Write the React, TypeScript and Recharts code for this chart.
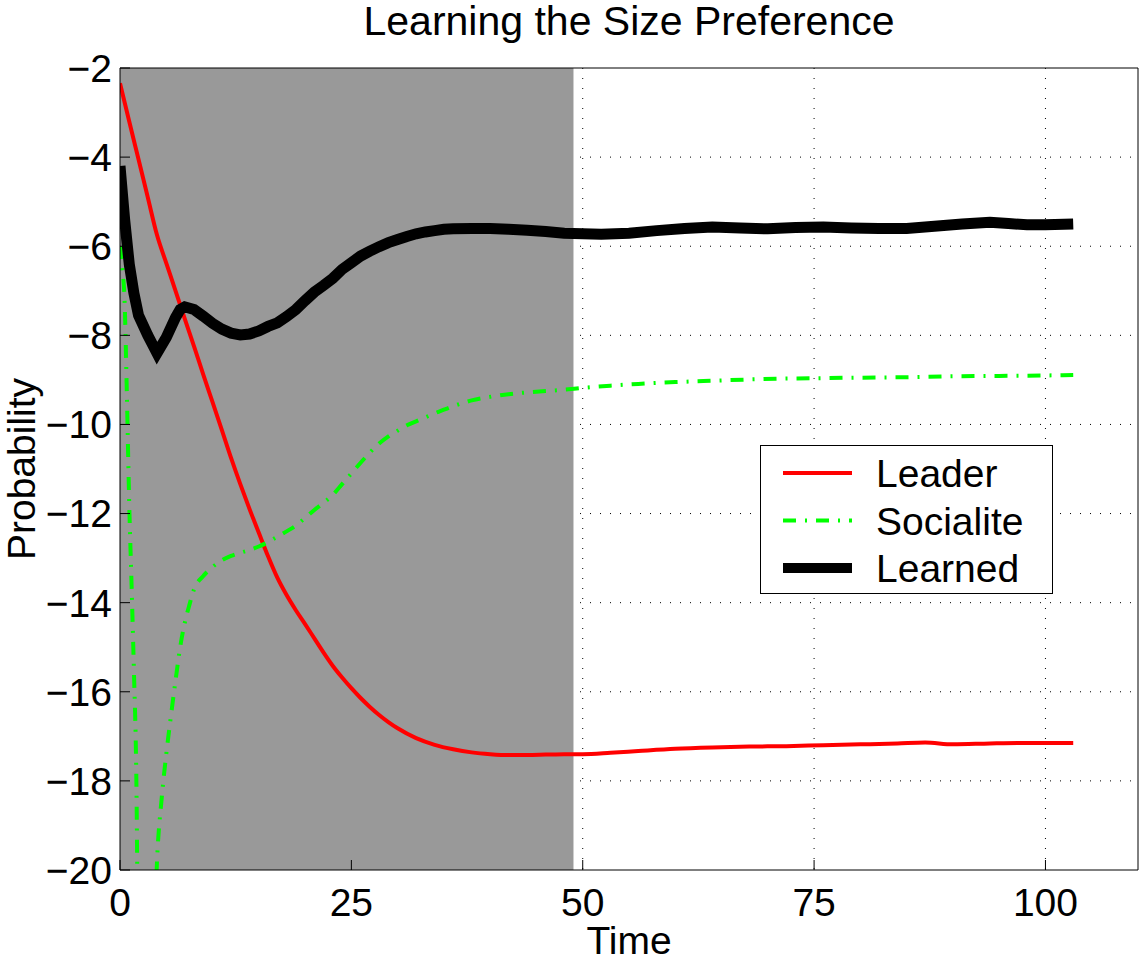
import React from 'react';
import {
  LineChart,
  Line,
  XAxis,
  YAxis,
  CartesianGrid,
  ReferenceArea,
  Legend,
  Label,
} from 'recharts';

// time axis and the three curves
const leaderTime = [
  0, 1, 2, 3, 4, 5, 6, 7, 8, 9, 10, 11, 12, 13, 14, 15, 16, 17, 18, 19, 20, 21, 22, 23, 24, 25, 26,
  27, 28, 29, 30, 32, 34, 36, 38, 40, 42, 44, 46, 48, 50, 53, 56, 60, 64, 68, 72, 76, 80, 84, 87,
  90, 94, 97, 100, 103,
];
const leaderValues = [
  -2.34, -3.2, -4.05, -4.9, -5.75, -6.38, -7.0, -7.63, -8.25, -8.88, -9.5, -10.12, -10.75, -11.34,
  -11.9, -12.43, -12.96, -13.44, -13.83, -14.17, -14.48, -14.8, -15.12, -15.42, -15.68, -15.92,
  -16.14, -16.34, -16.52, -16.68, -16.82, -17.04, -17.19, -17.29, -17.36, -17.4, -17.42, -17.42,
  -17.41, -17.4, -17.4, -17.37, -17.33, -17.28, -17.25, -17.23, -17.22, -17.2, -17.18, -17.16,
  -17.14, -17.18, -17.16, -17.15, -17.15, -17.15,
];

const socialiteTime = [
  0, 0.25, 0.5, 0.75, 1, 1.25, 1.5, 1.75, 2, 2.5, 3, 3.5, 4, 4.5, 5, 5.5, 6, 6.5, 7, 7.5, 8, 9, 10,
  11, 12, 13, 14, 15, 16, 17, 18, 19, 20, 21, 22, 23, 24, 25, 26, 27, 28, 29, 30, 31, 32, 33, 34,
  35, 36, 37, 38, 40, 42, 44, 46, 48, 50, 53, 56, 60, 64, 68, 72, 76, 80, 85, 90, 95, 100, 103,
];
const socialiteValues = [
  -6.0, -6.5, -7.25, -9.4, -11.8, -13.6, -15.5, -17.7, -22.5, -25, -26, -23, -19.8, -18.4, -17.4,
  -16.55, -15.75, -15.0, -14.45, -14.05, -13.7, -13.4, -13.2, -13.05, -12.95, -12.88, -12.82,
  -12.74, -12.64, -12.52, -12.4, -12.27, -12.1, -11.92, -11.76, -11.58, -11.34, -11.1, -10.86,
  -10.63, -10.43, -10.27, -10.14, -10.02, -9.93, -9.84, -9.75, -9.67, -9.59, -9.52, -9.46, -9.38,
  -9.32, -9.28, -9.25, -9.22, -9.18, -9.13, -9.09, -9.05, -9.02, -8.99, -8.97, -8.96, -8.95,
  -8.94, -8.92, -8.91, -8.9, -8.89,
];

const learnedTime = [
  0, 0.5, 1, 1.5, 2, 3, 3.5, 4, 5, 6, 6.5, 7, 8, 9, 10, 11, 12, 13, 14, 15, 16, 17, 18, 19, 20, 21,
  22, 23, 24, 25, 26, 27, 28, 29, 30, 31, 32, 33, 34, 35, 36, 38, 40, 42, 44, 46, 48, 50, 52, 55,
  58, 61, 64, 67, 70, 73, 76, 79, 82, 85, 88, 91, 94, 96, 98, 100, 103,
];
const learnedValues = [
  -4.2, -5.4, -6.4, -7.05, -7.55, -8.0, -8.2, -8.4, -8.05, -7.6, -7.42, -7.36, -7.42, -7.57,
  -7.73, -7.86, -7.95, -7.99, -7.97, -7.9, -7.8, -7.72, -7.58, -7.42, -7.22, -7.03, -6.88, -6.72,
  -6.52, -6.37, -6.22, -6.11, -6.01, -5.92, -5.85, -5.78, -5.72, -5.68, -5.65, -5.62, -5.61, -5.6,
  -5.6, -5.62, -5.64, -5.67, -5.71, -5.72, -5.73, -5.71, -5.65, -5.6, -5.57, -5.59, -5.61, -5.58,
  -5.57, -5.59, -5.6, -5.6, -5.55, -5.5, -5.46, -5.49, -5.52, -5.52, -5.5,
];

const xTicks = [0, 25, 50, 75, 100];
const yTicks = [-20, -18, -16, -14, -12, -10, -8, -6, -4, -2];
const trainingEnd = 49;

const FONT = '"Liberation Sans", Arial, Helvetica, sans-serif';
const FS = 39;

const toPoints = (times: number[], values: number[]) =>
  times.map((t, i) => ({ t, v: values[i] }));

const series = [
  { name: 'Leader', data: toPoints(leaderTime, leaderValues), color: '#ff0000', width: 4, dash: undefined, curve: 'monotone' },
  { name: 'Socialite', data: toPoints(socialiteTime, socialiteValues), color: '#00ff00', width: 4, dash: '13 9 2 9', curve: 'monotone' },
  { name: 'Learned', data: toPoints(learnedTime, learnedValues), color: '#000000', width: 11, dash: undefined, curve: 'linear' },
];

const fmt = (v: number) => (v < 0 ? `\u2212${Math.abs(v)}` : `${v}`);

const LegendBox = () => (
  <svg width={293} height={149} style={{ display: 'block' }}>
    <rect x={0.5} y={0.5} width={292} height={148} fill="#fff" stroke="#000" strokeWidth={1} />
    {series.map((s, i) => {
      const cy = 28 + i * 47.5;
      return (
        <g key={s.name}>
          <line
            x1={23}
            x2={92}
            y1={cy}
            y2={cy}
            stroke={s.color}
            strokeWidth={s.name === 'Learned' ? 10 : 4}
            strokeDasharray={s.dash}
          />
          <text x={116} y={cy + 14} fontSize={FS} fill="#000" fontFamily={FONT}>
            {s.name}
          </text>
        </g>
      );
    })}
  </svg>
);

const App: React.FC = () => {
  return (
    <div
      style={{
        position: 'absolute',
        left: 0,
        top: 0,
        width: 1141,
        height: 966,
        background: '#fff',
        fontFamily: FONT,
      }}
    >
      <div
        style={{
          position: 'absolute',
          left: 120,
          width: 1018,
          top: 1,
          textAlign: 'center',
          fontSize: 41,
          lineHeight: '41px',
          color: '#000',
        }}
      >
        Learning the Size Preference
      </div>
      <LineChart width={1141} height={966} margin={{ top: 67, right: 0, bottom: 0, left: 0 }}>
        <CartesianGrid
          stroke="#000"
          strokeDasharray="1 9"
          verticalValues={[25, 50, 75, 100]}
          horizontalValues={[-18, -16, -14, -12, -10, -8, -6, -4]}
        />
        <ReferenceArea
          x1={0}
          x2={trainingEnd}
          y1={-20}
          y2={-2}
          fill="#999999"
          fillOpacity={1}
          stroke="none"
          ifOverflow="hidden"
        />
        <XAxis
          type="number"
          dataKey="t"
          domain={[0, 110]}
          ticks={xTicks}
          allowDataOverflow
          height={96}
          stroke="#000"
          tickSize={-10}
          tickMargin={28}
          tick={{ fill: '#000', fontSize: FS }}
        >
          <Label
            content={({ viewBox }: any) => (
              <text
                x={viewBox.x + viewBox.width / 2}
                y={954}
                textAnchor="middle"
                fontSize={FS}
                fill="#000"
              >
                Time
              </text>
            )}
          />
        </XAxis>
        <XAxis
          xAxisId="top"
          orientation="top"
          type="number"
          domain={[0, 110]}
          ticks={xTicks}
          allowDataOverflow
          height={1}
          stroke="#000"
          tickSize={-10}
          tick={false}
        />
        <YAxis
          type="number"
          domain={[-20, -2]}
          ticks={yTicks}
          allowDataOverflow
          width={120}
          stroke="#000"
          tickSize={-10}
          tickMargin={18}
          tickFormatter={fmt}
          tick={{ fill: '#000', fontSize: FS }}
        >
          <Label
            content={({ viewBox }: any) => (
              <text
                x={35}
                y={viewBox.y + viewBox.height / 2}
                textAnchor="middle"
                fontSize={FS}
                fill="#000"
                transform={`rotate(-90 35 ${viewBox.y + viewBox.height / 2})`}
              >
                Probability
              </text>
            )}
          />
        </YAxis>
        <YAxis
          yAxisId="right"
          orientation="right"
          type="number"
          domain={[-20, -2]}
          ticks={yTicks}
          allowDataOverflow
          width={3}
          stroke="#000"
          tickSize={-10}
          tick={false}
        />
        {series.map((s) => (
          <Line
            key={s.name}
            data={s.data}
            dataKey="v"
            name={s.name}
            type={s.curve as any}
            stroke={s.color}
            strokeWidth={s.width}
            strokeDasharray={s.dash}
            dot={false}
            activeDot={false}
            isAnimationActive={false}
          />
        ))}
        <Legend
          layout="vertical"
          align="center"
          verticalAlign="middle"
          wrapperStyle={{ left: 760, top: 445, width: 293, height: 149 }}
          content={() => <LegendBox />}
        />
      </LineChart>
    </div>
  );
};

export default App;
